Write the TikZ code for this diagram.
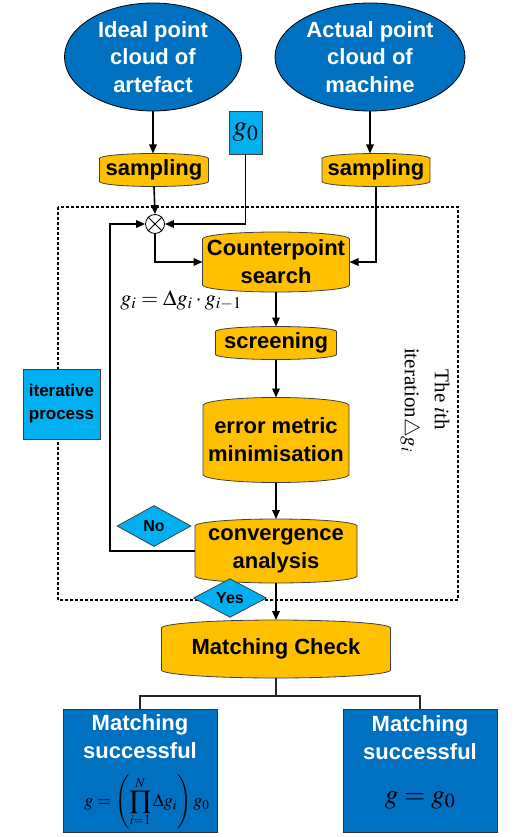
\documentclass[tikz,border=0pt]{standalone}
\usepackage{amsmath}
\usepackage{mathptmx}
\usepackage[no-math]{fontspec}
\setmainfont{Liberation Sans}
\newfontfamily\seriffont{Liberation Serif}
\usetikzlibrary{shapes.geometric,arrows.meta,calc}
\pgfdeclarelayer{bg}
\pgfsetlayers{bg,main}
\definecolor{gold}{HTML}{FFC000}
\definecolor{dblue}{HTML}{0070C0}
\definecolor{cyanb}{HTML}{00B0F0}
\tikzset{
 proc/.style={rectangle, draw=none, inner sep=0pt, outer sep=0pt, align=center,
   font=\fontsize{22}{28}\selectfont\bfseries},
 cylfill/.style={fill=gold, draw=black!75, line width=0.8pt},
 oval/.style={ellipse, fill=dblue, draw=black, line width=0.8pt, inner sep=0pt, align=center,
   text=white, font=\fontsize{22}{27.5}\selectfont\bfseries},
 arr/.style={line width=1.6pt, -{Triangle[length=9pt,width=7.5pt]}},
 loopln/.style={line width=1.4pt, -{Triangle[length=9pt,width=7.5pt]}},
 dia/.style={diamond, fill=cyanb, draw=black!75, line width=0.8pt, inner sep=0pt,
   font=\fontsize{16}{18}\selectfont\bfseries},
 res/.style={rectangle, fill=dblue, draw=black!80, line width=1pt, minimum width=154pt,
   minimum height=123pt, inner sep=0pt},
 restext/.style={align=center, text=white, inner sep=0pt, font=\fontsize{22}{28}\selectfont\bfseries},
 tree/.style={line width=1.5pt, draw=black!85},
 frame/.style={line width=1.3pt, dash pattern=on 3pt off 2pt},
 cyanbox/.style={rectangle, fill=cyanb, draw=black!75, line width=0.8pt, inner sep=0pt, align=center}
}
\newcommand\cylbg[2]{%
 \begin{pgfonlayer}{bg}
 \path[cylfill] let \p1=(#1.north west), \p2=(#1.south east), \n1={(\x2-\x1)/2} in
 (\x1,\y1-#2pt) arc[start angle=180,end angle=0,x radius=\n1,y radius=#2pt]
 -- (\x2,\y2+#2pt) arc[start angle=0,end angle=-180,x radius=\n1,y radius=#2pt] -- cycle;
 \end{pgfonlayer}}
\begin{document}
\begin{tikzpicture}[x=1pt,y=-1pt]
\useasboundingbox (0,0) rectangle (525,837);
\begin{pgfonlayer}{bg}
\draw[frame] (58,207) rectangle (458,600);
\end{pgfonlayer}
% top
\node[oval, minimum width=177pt, minimum height=108pt] (ideal) at (153,57) {Ideal point\\cloud of\\artefact};
\node[oval, minimum width=190pt, minimum height=108pt] (actual) at (370,57) {Actual point\\cloud of\\machine};
\node[cyanbox, minimum width=33pt, minimum height=43pt, font=\fontsize{29}{30}\selectfont] (g0) at (245.5,132.5) {$g_0$};
\node[proc, minimum width=109pt, minimum height=33pt] (s1) at (154,170) {sampling};
\node[proc, minimum width=108pt, minimum height=33pt] (s2) at (376,170) {sampling};
\cylbg{s1}{5}
\cylbg{s2}{5}
% multiplier
\node[circle, draw=black, fill=white, line width=0.8pt, minimum size=19pt, inner sep=0pt] (ot) at (155,224) {};
\draw[line width=0.8pt] (ot.45) -- (ot.225) (ot.135) -- (ot.315);
% main column
\node[proc, minimum width=147pt, minimum height=60pt] (cs) at (276,262) {Counterpoint\\search};
\node[proc, minimum width=121pt, minimum height=33pt] (sc) at (276,343) {screening};
\node[proc, minimum width=146pt, minimum height=85pt] (em) at (276,440) {error metric\\minimisation};
\node[proc, minimum width=162pt, minimum height=64pt] (ca) at (276,551) {convergence\\analysis};
\node[proc, minimum width=229pt, minimum height=58pt] (mc) at (276,649) {Matching Check};
\cylbg{cs}{7}
\cylbg{sc}{5}
\cylbg{em}{8}
\cylbg{ca}{7}
\cylbg{mc}{8}
% labels
\node[font=\fontsize{22}{26}\selectfont] (gi) at (181,300) {$g_i=\Delta g_i\cdot g_{i-1}$};
\node[cyanbox, minimum width=77pt, minimum height=70pt, font=\fontsize{17}{23}\selectfont\bfseries] (it) at (61.5,404) {iterative\\process};
\node[rotate=-90, align=center, font=\seriffont\fontsize{21}{30}\selectfont] (ith) at (425,400) {The $i$th\\iteration$\triangle g_i$};
\node[dia, minimum width=74pt, minimum height=41pt] (no) at (154,526) {No};
\node[dia, minimum width=73pt, minimum height=31pt] (yes) at (230,598) {Yes};
% results
\node[res] (r1) at (140,770.5) {};
\node[res] (r2) at (420,770.5) {};
\node[restext] (r1t) at (140,737) {Matching\\successful};
\node[restext] (r2t) at (420,738) {Matching\\successful};
\node[font=\fontsize{18}{20}\selectfont, inner sep=0pt] (f1) at (147,802) {$\displaystyle g=\left(\prod_{i=1}^{N}\Delta g_i\right)g_0$};
\node[font=\fontsize{27}{29}\selectfont] (f2) at (420,800) {$g=g_0$};
% connectors
\draw[arr] (ideal.south) -- (ideal.south |- s1.north);
\draw[arr] (actual.south) -- (actual.south |- s2.north);
\draw[arr] (s1.south) -- (ot.north);
\draw[arr] (g0.south) |- (ot.east);
\draw[arr] (ot.south) |- (cs.west);
\draw[arr] (s2.south) |- (cs.east);
\draw[arr] (cs.south) -- (sc.north);
\draw[arr] (sc.south) -- (em.north);
\draw[arr] (em.south) -- (ca.north);
\draw[arr] (ca.south) -- (mc.north);
\coordinate (fb) at (110,224);
\draw[loopln] (ca.west) -| (fb) -- (ot.west);
\coordinate (jn) at (276,696);
\draw[tree] (mc.south) -- (jn);
\draw[tree] (r1.north) |- (jn) -| (r2.north);
\end{tikzpicture}
\end{document}
